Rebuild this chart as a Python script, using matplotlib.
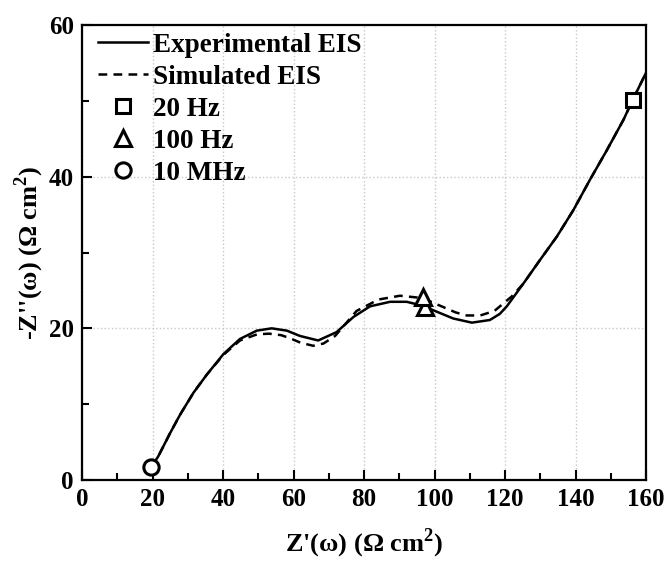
import numpy as np
import matplotlib
matplotlib.use("Agg")
import matplotlib.pyplot as plt
from matplotlib.ticker import MultipleLocator

plt.rcParams['font.family'] = ['Liberation Serif', 'DejaVu Serif']
plt.rcParams['font.weight'] = 'bold'
plt.rcParams['mathtext.fontset'] = 'custom'
plt.rcParams['mathtext.rm'] = 'Liberation Serif:bold'
plt.rcParams['mathtext.bf'] = 'Liberation Serif:bold'

# experimental Nyquist curve
exp_re = [19.6, 21.6, 25.0, 27.8, 31.6, 35.4, 40.1, 44.8, 49.6, 53.8, 58.1, 61.8,
          67.0, 72.2, 77.0, 81.7, 87.4, 92.1, 96.5, 100.6, 105.3, 110.6, 115.7,
          118.5, 120.5, 125.2, 129.9, 134.7, 139.4, 144.1, 148.9, 153.6, 156.2, 160.0]
exp_im = [1.7, 3.1, 6.2, 8.6, 11.5, 13.9, 16.6, 18.6, 19.7, 20.0, 19.7, 19.0,
          18.4, 19.5, 21.5, 22.9, 23.5, 23.5, 23.0, 22.2, 21.3, 20.75, 21.1,
          21.9, 22.9, 25.9, 29.0, 32.1, 35.6, 39.6, 43.5, 47.5, 50.1, 53.7]

# simulated curve
sim_re = [19.6, 21.6, 25.0, 27.8, 31.6, 35.4, 40.1, 44.8, 49.6, 53.0, 56.5, 59.0,
          62.0, 65.6, 68.5, 71.8, 77.9, 84.1, 90.2, 96.5, 102.5, 106.0, 109.1,
          113.0, 117.0, 121.9, 125.2, 129.9, 134.7, 139.4, 144.1, 148.9, 153.6,
          156.2, 160.0]
sim_im = [1.7, 3.1, 6.2, 8.6, 11.5, 13.9, 16.5, 18.4, 19.2, 19.3, 19.1, 18.7,
          18.1, 17.7, 18.0, 19.0, 22.3, 23.8, 24.3, 24.0, 22.8, 22.1, 21.7,
          21.7, 22.3, 24.2, 25.9, 29.0, 32.1, 35.6, 39.6, 43.5, 47.5, 50.1, 53.7]

# marked frequencies: label, Z', -Z'', marker
freq_labels = ['20 Hz', '100 Hz', '10 MHz']
freq_re = [156.2, 96.6, 19.6]
freq_im = [50.1, 24.1, 1.7]
freq_markers = ['s', '^', 'o']
# second 100 Hz triangle on the experimental curve
tri2_re, tri2_im = 97.4, 22.8

fig = plt.figure(figsize=(6.68, 5.63), dpi=100)
ax = fig.add_axes([0.1228, 0.1474, 0.8443, 0.8082])

ax.plot(exp_re, exp_im, '-', color='black', lw=1.8, label='Experimental EIS')
ax.plot(sim_re, sim_im, '--', color='black', lw=1.8, dashes=(3.5, 2.5), label='Simulated EIS')

ax.plot(tri2_re, tri2_im, '^', color='black', mfc='white', ms=11, mew=2.2, zorder=4)
for lab, xr, yi, mk in zip(freq_labels, freq_re, freq_im, freq_markers):
    ax.plot(xr, yi, mk, color='black', mfc='white', ms=11 if mk != 's' else 10,
            mew=2.2, label=lab, zorder=5)

ax.set_xlim(0, 160)
ax.set_ylim(0, 60)
ax.xaxis.set_major_locator(MultipleLocator(20))
ax.xaxis.set_minor_locator(MultipleLocator(10))
ax.yaxis.set_major_locator(MultipleLocator(20))
ax.yaxis.set_minor_locator(MultipleLocator(10))
ax.tick_params(which='both', direction='in', width=1.5, labelsize=18, pad=6)
ax.tick_params(which='major', length=7)
ax.tick_params(which='minor', length=5)
for s in ax.spines.values():
    s.set_linewidth(1.6)
ax.grid(True, which='major', ls=':', color='#c8c8c8', lw=1)

ax.set_xlabel(r"Z'(ω) (Ω cm$^\mathbf{2}$)", fontsize=19, fontweight='bold', labelpad=11)
ax.set_ylabel(r"-Z''(ω) (Ω cm$^\mathbf{2}$)", fontsize=19, fontweight='bold', labelpad=2)

ax.legend(loc='upper left', bbox_to_anchor=(0.028, 0.983), frameon=False,
          handlelength=1.85, handletextpad=0.18, labelspacing=0.26,
          borderaxespad=0, borderpad=0, prop={'weight': 'bold', 'size': 19.5})

fig.savefig('out.png', dpi=100)
